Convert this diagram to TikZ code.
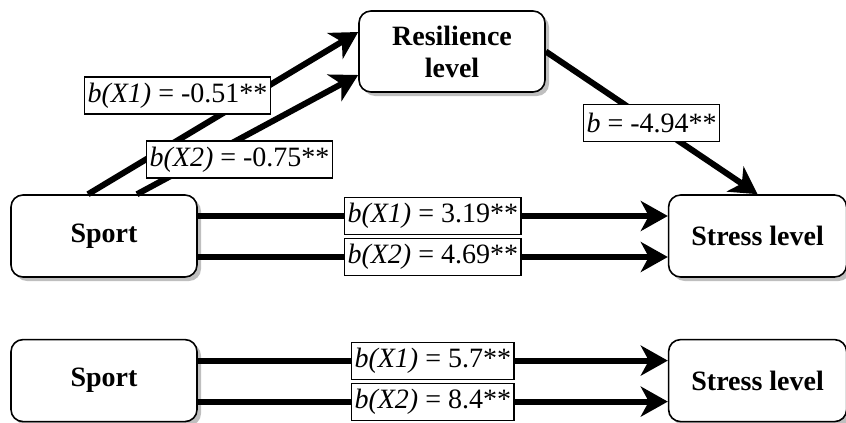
\documentclass[tikz,border=0pt]{standalone}
\usepackage{fontspec}
\setmainfont{Liberation Serif}
\usetikzlibrary{arrows.meta,positioning,shadows}

\begin{document}
\begin{tikzpicture}[x=1pt, y=-1pt,
  var/.style={draw, line width=1.6pt, rounded corners=12pt, fill=white, minimum width=186pt, minimum height=82pt, align=center, font=\fontsize{28}{32}\selectfont\bfseries, drop shadow={shadow xshift=4pt, shadow yshift=-4pt, fill=black!25, opacity=1}},
  coef/.style={draw, line width=1.2pt, fill=white, inner xsep=3pt, inner ysep=0pt, minimum height=37pt, font=\fontsize{28}{32}\selectfont},
  link/.style={-{Stealth[length=27pt, width=30pt, inset=8pt]}, line width=6pt}
]
\useasboundingbox (0,0) rectangle (846,423);
\node[var] (sport) at (104,236) {Sport};
\node[var, minimum width=178pt, right=470pt of sport] (stress) {Stress level};
\node[var, minimum height=81pt] (resil) at (452,51.5) {Resilience\\level};
\node[var, below=61pt of sport] (sport2) {Sport};
\node[var, minimum width=178pt, below=61pt of stress] (stress2) {Stress level};
\draw[link] ([xshift=-16pt]sport.north) -- ([yshift=19.5pt]resil.west);
\draw[link] ([xshift=33pt]sport.north) -- ([yshift=-23.5pt]resil.west);
\node[coef] (k1) at (177.5,95.5) {\textit{b(X1)} = -0.51**};
\node[coef] (k2) at (239.5,159.5) {\textit{b(X2)} = -0.75**};
\draw[link] (resil.east) -- node[coef] (k3) {\textit{b} = -4.94**} (stress.north);
\draw[link] ([yshift=20pt]sport.east) -- node[coef] (k4) {\textit{b(X1)} = 3.19**} ([yshift=20pt]stress.west);
\draw[link] ([yshift=-21pt]sport.east) -- node[coef] (k5) {\textit{b(X2)} = 4.69**} ([yshift=-21pt]stress.west);
\draw[link] ([yshift=20pt]sport2.east) -- node[coef] (k6) {\textit{b(X1)} = 5.7**} ([yshift=20pt]stress2.west);
\draw[link] ([yshift=-21pt]sport2.east) -- node[coef] (k7) {\textit{b(X2)} = 8.4**} ([yshift=-21pt]stress2.west);
\end{tikzpicture}
\end{document}
